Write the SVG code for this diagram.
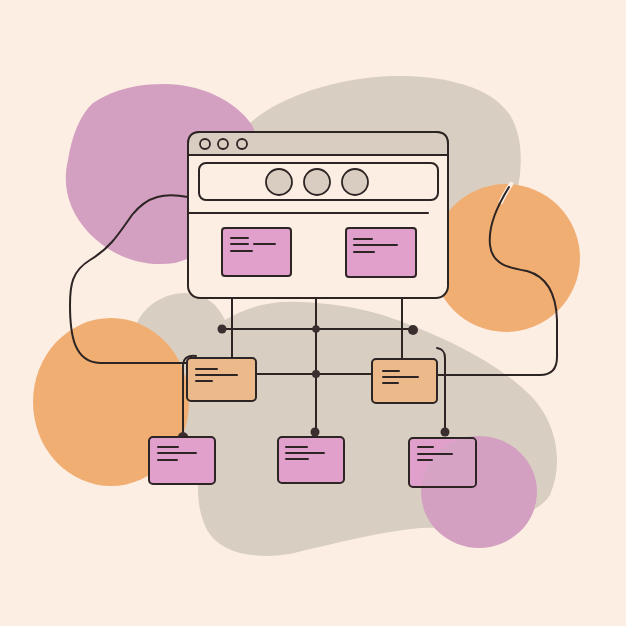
<svg xmlns="http://www.w3.org/2000/svg" width="626" height="626" viewBox="0 0 626 626">
<style>
.s{fill:none;stroke:#2d2424;stroke-width:2;stroke-linecap:round;stroke-linejoin:round}
.pk{fill:#e0a0cb;stroke:#2d2424;stroke-width:2}
.or{fill:#ebb98a;stroke:#2d2424;stroke-width:2}
.tx{stroke:#2d2424;stroke-width:2;stroke-linecap:round}
.dot{fill:#3a2e2e}
.bgc{fill:#d3a0c1}
.gr{fill:#d9cec2}
.og{fill:#f1ae73}
</style>
<defs>
<clipPath id="clipBR"><rect x="410" y="439" width="65" height="47" rx="3"/></clipPath>
</defs>
<rect width="626" height="626" fill="#fdeee4"/>
<g id="background">
<path class="gr" d="M250,123 C275,100 330,78 393,76 C440,75 490,85 510,115 C525,140 522,175 515,200 C505,235 470,262 445,275 L300,280 L250,200 Z"/>
<path class="bgc" d="M93,103 C115,88 140,84 165,84 C200,84 235,100 252,125 C262,145 255,180 240,205 C220,235 205,255 175,263 C140,268 110,255 88,232 C68,210 62,185 68,160 C72,135 80,115 93,103 Z"/>
<path class="gr" d="M137,323 C145,305 165,293 185,293 C205,293 218,305 225,320 C245,308 270,300 300,302 C340,303 380,312 410,325 C450,340 500,365 530,395 C555,420 565,460 550,495 C535,520 480,527 420,528 C380,532 340,542 290,554 C250,560 220,552 207,530 C196,508 198,488 198,470 L160,420 Z"/>
<circle class="og" cx="506" cy="258" r="74"/>
<ellipse class="og" cx="111" cy="402" rx="78" ry="84"/>
<ellipse class="bgc" cx="479" cy="492" rx="58" ry="56"/>
</g>
<g id="connectors">
<path d="M511,184 C506,192 503,197 501,202" fill="none" stroke="#fdeee4" stroke-width="4.5" stroke-linecap="round"/>
<path class="s" d="M188,197 C165,193 148,195 132,215 C118,235 110,248 90,260 C72,271 70,285 70,305 C70,335 74,362 100,363 L186,363"/>
<path class="s" d="M509,187 C498,205 488,225 490,245 C492,265 510,268 527,271 C545,276 556,290 557,320 L557,357 C557,368 552,375 540,375 L437,375"/>
<path class="s" d="M232,298 L232,358 M402,298 L402,359 M316,298 L316,432 M222,329 L413,329 M256,374 L372,374"/>
<path class="s" d="M196,356 C188,355 183,358 183,366 L183,433"/>
<path class="s" d="M437,348 C443,349 445,352 445,358 L445,432"/>
<path class="s" d="M256,213 L256,228 M381,213 L381,228"/>
<circle class="dot" cx="222" cy="329" r="4.5"/>
<circle class="dot" cx="316" cy="329" r="3.8"/>
<circle class="dot" cx="413" cy="330" r="5"/>
<circle class="dot" cx="316" cy="374" r="4"/>
<path class="dot" d="M177.5,438 A5.5,6 0 0 1 188.5,438 Z"/>
<circle class="dot" cx="315" cy="432" r="4.5"/>
<circle class="dot" cx="445" cy="432" r="4.5"/>
</g>
<g id="browser">
<rect x="188" y="132" width="260" height="166" rx="12" fill="#fdeee4" stroke="#2d2424" stroke-width="2"/>
<path d="M188,155 L188,144 Q188,132 200,132 L436,132 Q448,132 448,144 L448,155 Z" fill="#d9cdc1" stroke="#2d2424" stroke-width="2"/>
<circle cx="205" cy="144" r="5" fill="none" stroke="#2d2424" stroke-width="1.8"/>
<circle cx="223" cy="144" r="5" fill="none" stroke="#2d2424" stroke-width="1.8"/>
<circle cx="242" cy="144" r="5" fill="none" stroke="#2d2424" stroke-width="1.8"/>
<rect x="199" y="163" width="239" height="37" rx="7" fill="none" stroke="#2d2424" stroke-width="2"/>
<circle cx="279" cy="182" r="13" fill="#d9cdc1" stroke="#2d2424" stroke-width="1.8"/>
<circle cx="317" cy="182" r="13" fill="#d9cdc1" stroke="#2d2424" stroke-width="1.8"/>
<circle cx="355" cy="182" r="13" fill="#d9cdc1" stroke="#2d2424" stroke-width="1.8"/>
<line x1="188" y1="213" x2="428" y2="213" class="s"/>
</g>
<g id="box-top-left">
<rect class="pk" x="222" y="228" width="69" height="48" rx="3"/>
<path class="tx" d="M231,238 L248,238 M231,244 L248,244 M254,244 L275,244 M231,251 L252,251"/>
</g>
<g id="box-top-right">
<rect class="pk" x="346" y="228" width="70" height="49" rx="3"/>
<path class="tx" d="M354,239 L372,239 M354,245 L397,245 M354,252 L374,252"/>
</g>
<g id="box-mid-left">
<rect class="or" x="187" y="358" width="69" height="43" rx="4"/>
<path class="tx" d="M196,369 L217,369 M196,375 L237,375 M196,381 L212,381"/>
</g>
<g id="box-mid-right">
<rect class="or" x="372" y="359" width="65" height="44" rx="4"/>
<path class="tx" d="M383,371 L399,371 M383,377 L418,377 M383,383 L398,383"/>
</g>
<g id="box-bottom-left">
<rect class="pk" x="149" y="437" width="66" height="47" rx="4"/>
<path class="tx" d="M158,447 L178,447 M158,453 L196,453 M158,460 L177,460"/>
</g>
<g id="box-bottom-center">
<rect class="pk" x="278" y="437" width="66" height="46" rx="4"/>
<path class="tx" d="M286,447 L307,447 M286,453 L324,453 M286,459 L308,459"/>
</g>
<g id="box-bottom-right">
<rect class="pk" x="409" y="438" width="67" height="49" rx="4"/>
<ellipse cx="479" cy="492" rx="58" ry="56" fill="#d4a3c4" opacity="0.85" clip-path="url(#clipBR)"/>
<path class="tx" d="M418,447 L433,447 M418,454 L452,454 M418,460 L432,460"/>
</g>
</svg>
